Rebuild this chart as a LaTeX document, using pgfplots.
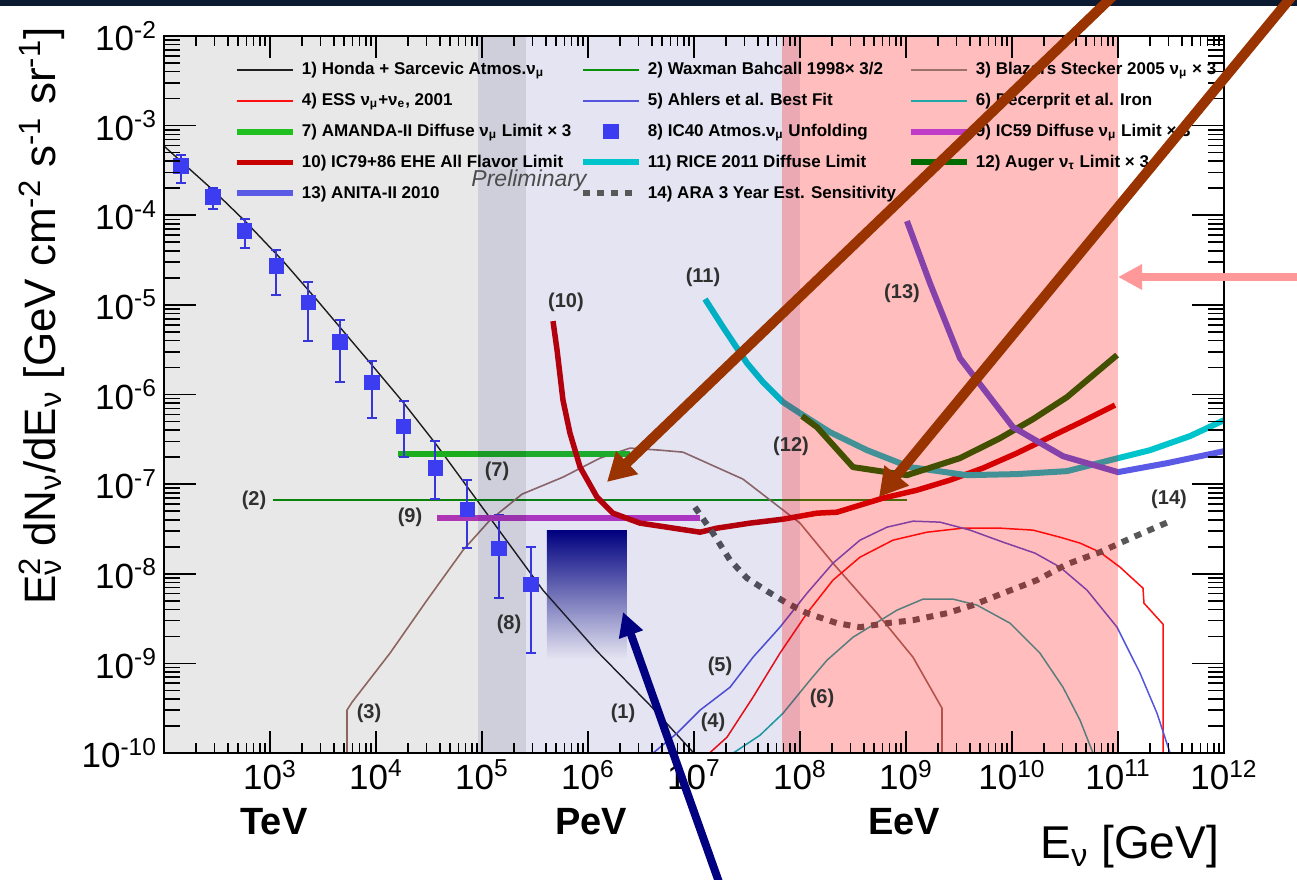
\documentclass[border=0pt]{standalone}
\usepackage{pgfplots}
\pgfplotsset{compat=1.18}
\usepackage{pgfplotstable}
\usepackage{fontspec}
\setmainfont{Liberation Sans}
\usetikzlibrary{arrows.meta}

\definecolor{cHonda}{HTML}{202020}
\definecolor{cWB}{HTML}{0A900A}
\definecolor{cBlz}{HTML}{9A7068}
\definecolor{cESS}{HTML}{FF1010}
\definecolor{cAhl}{HTML}{5555DD}
\definecolor{cDec}{HTML}{20A8A8}
\definecolor{cAma}{HTML}{20C020}
\definecolor{cIC}{HTML}{3C3CF0}
\definecolor{cIC59}{HTML}{C03CC8}
\definecolor{cEHE}{HTML}{C80000}
\definecolor{cRice}{HTML}{00C4CC}
\definecolor{cAug}{HTML}{006C00}
\definecolor{cAni}{HTML}{5A5AE6}
\definecolor{cAra}{HTML}{585858}
\definecolor{cBrownArrow}{HTML}{993300}
\definecolor{cPinkArrow}{HTML}{FF9999}
\definecolor{cNavy}{HTML}{000080}
\definecolor{cMidNavy}{HTML}{6A6AB0}
\definecolor{cTopBar}{HTML}{0B1A30}
\definecolor{cLab}{HTML}{303030}

\newcommand{\LA}[1]{\makebox[136pt][l]{#1}}
\newcommand{\LB}[1]{\makebox[127pt][l]{#1}}
\newcommand{\LC}[1]{\makebox[140pt][l]{#1}}
\pgfplotsset{markleg/.style={legend image code/.code={\draw[##1] plot coordinates {(14pt,0pt)};}}}

% all tables: lx = log10(E/GeV), ly = log10(flux)
\pgfplotstableread{
lx ly
2.000 -3.228
2.462 -3.719
2.764 -4.065
3.123 -4.511
3.443 -4.946
3.962 -5.672
4.255 -6.085
4.566 -6.554
4.953 -7.179
5.236 -7.636
5.575 -8.183
6.085 -8.864
6.585 -9.467
6.991 -9.991
7.080 -10.100
}\tHonda
\pgfplotstableread{
lx ly
3.028 -7.179
9.009 -7.179
}\tWB
\pgfplotstableread{
lx ly
3.726 -10.200
3.726 -9.522
3.774 -9.433
4.132 -8.886
4.481 -8.295
4.821 -7.737
5.075 -7.402
5.377 -7.112
5.764 -6.922
6.113 -6.710
6.396 -6.598
6.679 -6.621
6.896 -6.643
7.462 -6.944
8.000 -7.435
8.311 -7.882
8.726 -8.440
9.066 -8.931
9.340 -9.500
9.340 -10.200
}\tBlz
\pgfplotstableread{
lx ly
7.100 -10.050
7.311 -9.824
7.557 -9.377
7.811 -8.886
8.066 -8.440
8.311 -8.071
8.566 -7.815
8.877 -7.625
9.198 -7.536
9.538 -7.491
9.887 -7.491
10.198 -7.513
10.453 -7.592
10.642 -7.658
10.830 -7.759
11.019 -7.926
11.236 -8.161
11.245 -8.328
11.425 -8.563
11.425 -10.200
}\tESS
\pgfplotstableread{
lx ly
6.604 -10.010
6.840 -9.779
7.057 -9.522
7.340 -9.266
7.557 -8.931
7.811 -8.596
8.066 -8.217
8.311 -7.882
8.566 -7.625
8.821 -7.480
9.066 -7.413
9.321 -7.424
9.604 -7.513
9.915 -7.647
10.217 -7.770
10.453 -7.926
10.708 -8.183
10.991 -8.596
11.208 -9.109
11.368 -9.556
11.491 -10.000
11.530 -10.100
}\tAhl
\pgfplotstableread{
lx ly
7.358 -10.010
7.623 -9.801
7.840 -9.556
8.094 -9.188
8.255 -8.964
8.500 -8.708
8.915 -8.406
9.160 -8.283
9.443 -8.283
9.670 -8.350
9.981 -8.551
10.264 -8.886
10.481 -9.266
10.642 -9.634
10.764 -10.000
10.800 -10.100
}\tDec
\pgfplotstableread{
lx ly
4.208 -6.665
6.396 -6.665
}\tAma
\pgfplotstableread{
lx ly lo hi
2.16 -3.451 -3.641 -3.328
2.46 -3.797 -3.931 -3.696
2.76 -4.176 -4.366 -4.042
3.06 -4.567 -4.891 -4.388
3.36 -4.969 -5.404 -4.746
3.66 -5.415 -5.862 -5.170
3.96 -5.862 -6.263 -5.627
4.26 -6.353 -6.699 -6.074
4.56 -6.821 -7.167 -6.520
4.86 -7.279 -7.714 -6.955
5.16 -7.714 -8.272 -7.346
5.46 -8.116 -8.886 -7.703
}\tIC
\pgfplotstableread{
lx ly
4.575 -7.379
7.057 -7.379
}\tICf
\pgfplotstableread{
lx ly
5.670 -5.181
5.708 -5.504
5.764 -6.063
5.830 -6.431
5.925 -6.810
6.085 -7.145
6.236 -7.324
6.491 -7.435
6.745 -7.480
7.057 -7.536
7.217 -7.491
7.528 -7.435
7.840 -7.391
8.160 -7.324
8.349 -7.313
8.783 -7.156
9.104 -7.067
9.415 -6.955
9.726 -6.821
10.047 -6.654
10.358 -6.475
10.670 -6.297
10.972 -6.118
}\tEHE
\pgfplotstableread{
lx ly
7.104 -4.935
7.274 -5.248
7.500 -5.650
7.651 -5.862
7.840 -6.085
8.028 -6.230
8.283 -6.420
8.632 -6.621
9.038 -6.810
9.575 -6.900
10.047 -6.888
10.519 -6.855
11.000 -6.710
11.302 -6.621
11.679 -6.464
12.000 -6.286
}\tRice
\pgfplotstableread{
lx ly
8.019 -6.241
8.160 -6.364
8.500 -6.810
9.009 -6.900
9.509 -6.710
9.887 -6.487
10.198 -6.275
10.519 -6.029
10.991 -5.560
}\tAug
\pgfplotstableread{
lx ly
9.009 -4.065
9.226 -4.757
9.509 -5.594
10.009 -6.364
10.481 -6.688
11.000 -6.866
11.462 -6.766
12.000 -6.632
}\tAni
\pgfplotstableread{
lx ly
7.009 -7.257
7.179 -7.547
7.340 -7.848
7.500 -8.049
7.689 -8.194
7.877 -8.328
8.066 -8.440
8.349 -8.551
8.566 -8.596
8.821 -8.551
9.066 -8.518
9.387 -8.440
9.632 -8.350
9.915 -8.217
10.236 -8.071
10.519 -7.893
10.830 -7.759
11.142 -7.592
11.472 -7.424
}\tAra

\begin{document}
\begin{tikzpicture}
\begin{axis}[
  scale only axis, width=530pt, height=358.5pt,
  xmode=log, ymode=log,
  xmin=1e2, xmax=1e12, ymin=1e-10, ymax=1e-2,
  axis on top,
  xtick={1e2,1e3,1e4,1e5,1e6,1e7,1e8,1e9,1e10,1e11,1e12},
  xticklabels={{},{10\textsuperscript{3}},{10\textsuperscript{4}},{10\textsuperscript{5}},{10\textsuperscript{6}},{10\textsuperscript{7}},{10\textsuperscript{8}},{10\textsuperscript{9}},{10\textsuperscript{10}},{10\textsuperscript{11}},{10\textsuperscript{12}}},
  ytick=\empty,
  major tick length=11pt, minor tick length=5pt,
  tick style={black, line width=0.8pt},
  axis line style={line width=1pt},
  tick label style={font=\fontsize{17.5}{18}\selectfont},
  legend columns=3,
  legend cell align=left,
  legend image code/.code={\draw[#1] (0pt,0pt) -- (28pt,0pt);},
  legend style={at={(0.066,0.968)}, anchor=north west, draw=none, fill=none,
    inner sep=0pt, outer sep=0pt, font=\bfseries\fontsize{8.5}{10}\selectfont,
    nodes={inner xsep=3pt, inner ysep=1pt, text height=7pt, text depth=2pt},
    row sep=4.4pt, column sep=0pt},
]
% gradient box
\addplot[forget plot, draw=none, top color=cNavy, middle color=cMidNavy, bottom color=white]
  coordinates {(4.1e5,1.14e-9) (2.33e6,1.14e-9) (2.33e6,3.07e-8) (4.1e5,3.07e-8)} -- cycle;

\addplot[cHonda, line width=0.7pt] table[x expr=10^(\thisrow{lx}), y expr=10^(\thisrow{ly})] {\tHonda};
\addlegendentry{\LA{1) Honda + Sarcevic Atmos.ν\textsubscript{μ}}}
\addplot[cWB, line width=0.8pt] table[x expr=10^(\thisrow{lx}), y expr=10^(\thisrow{ly})] {\tWB};
\addlegendentry{\LB{2) Waxman Bahcall 1998× 3/2}}
\addplot[cBlz, line width=0.8pt] table[x expr=10^(\thisrow{lx}), y expr=10^(\thisrow{ly})] {\tBlz};
\addlegendentry{\LC{3) Blazars Stecker 2005 ν\textsubscript{μ} × 3}}
\addplot[cESS, line width=0.75pt] table[x expr=10^(\thisrow{lx}), y expr=10^(\thisrow{ly})] {\tESS};
\addlegendentry{\LA{4) ESS ν\textsubscript{μ}+ν\textsubscript{e}, 2001}}
\addplot[cAhl, line width=0.75pt] table[x expr=10^(\thisrow{lx}), y expr=10^(\thisrow{ly})] {\tAhl};
\addlegendentry{\LB{5) Ahlers et al. Best Fit}}
\addplot[cDec, line width=0.75pt] table[x expr=10^(\thisrow{lx}), y expr=10^(\thisrow{ly})] {\tDec};
\addlegendentry{\LC{6) Decerprit et al. Iron}}
\addplot[cAma, line width=3pt] table[x expr=10^(\thisrow{lx}), y expr=10^(\thisrow{ly})] {\tAma};
\addlegendentry{\LA{7) AMANDA-II Diffuse ν\textsubscript{μ} Limit × 3}}
\addplot[cIC, only marks, mark=square*, mark size=3.6pt, markleg,
  error bars/.cd, y dir=both, y explicit,
  error bar style={line width=1pt, cIC},
  error mark options={rotate=90, line width=1pt, mark size=2.5pt, cIC}]
  table[x expr=10^(\thisrow{lx}), y expr=10^(\thisrow{ly}),
        y error plus expr=10^(\thisrow{hi})-10^(\thisrow{ly}),
        y error minus expr=10^(\thisrow{ly})-10^(\thisrow{lo})] {\tIC};
\addlegendentry{\LB{8) IC40 Atmos.ν\textsubscript{μ} Unfolding}}
\addplot[cIC59, line width=3pt] table[x expr=10^(\thisrow{lx}), y expr=10^(\thisrow{ly})] {\tICf};
\addlegendentry{\LC{9) IC59 Diffuse ν\textsubscript{μ} Limit × 3}}
\addplot[cEHE, line width=2.75pt, line join=round] table[x expr=10^(\thisrow{lx}), y expr=10^(\thisrow{ly})] {\tEHE};
\addlegendentry{\LA{10) IC79+86 EHE All Flavor Limit}}
\addplot[cRice, line width=3pt, line join=round] table[x expr=10^(\thisrow{lx}), y expr=10^(\thisrow{ly})] {\tRice};
\addlegendentry{\LB{11) RICE 2011 Diffuse Limit}}
\addplot[cAug, line width=3pt, line join=round] table[x expr=10^(\thisrow{lx}), y expr=10^(\thisrow{ly})] {\tAug};
\addlegendentry{\LC{12) Auger ν\textsubscript{τ} Limit × 3}}
\addplot[cAni, line width=3pt, line join=round] table[x expr=10^(\thisrow{lx}), y expr=10^(\thisrow{ly})] {\tAni};
\addlegendentry{\LA{13) ANITA-II 2010}}
\addplot[cAra, line width=3pt, dash pattern=on 3.5pt off 3.5pt] table[x expr=10^(\thisrow{lx}), y expr=10^(\thisrow{ly})] {\tAra};
\addlegendentry{\LB{14) ARA 3 Year Est. Sensitivity}}

% translucent energy bands
\addplot[forget plot, draw=none, fill=cNavy, fill opacity=0.105]
  coordinates {(9.1e4,1e-10) (1e8,1e-10) (1e8,1e-2) (9.1e4,1e-2)} -- cycle;
\addplot[forget plot, draw=none, fill=black, fill opacity=0.09]
  coordinates {(1e2,1e-10) (2.6e5,1e-10) (2.6e5,1e-2) (1e2,1e-2)} -- cycle;
\addplot[forget plot, draw=none, fill=red, fill opacity=0.26]
  coordinates {(6.76e7,1e-10) (1e11,1e-10) (1e11,1e-2) (6.76e7,1e-2)} -- cycle;
\end{axis}

\begin{axis}[
  scale only axis, width=530pt, height=358.5pt,
  xmode=log, ymode=log,
  xmin=1e2, xmax=1e12, ymin=1e-10, ymax=1e-2,
  xtick=\empty,
  ytick={1e-10,1e-9,1e-8,1e-7,1e-6,1e-5,1e-4,1e-3,1e-2},
  yticklabels={{10\textsuperscript{-10}},{10\textsuperscript{-9}},{10\textsuperscript{-8}},{10\textsuperscript{-7}},{10\textsuperscript{-6}},{10\textsuperscript{-5}},{10\textsuperscript{-4}},{10\textsuperscript{-3}},{10\textsuperscript{-2}}},
  major tick length=16pt, minor tick length=8pt,
  tick style={black, line width=0.8pt},
  axis line style={line width=1pt},
  tick label style={font=\fontsize{17.5}{18}\selectfont},
]
\end{axis}

\begin{scope}[shift={(-82pt,376.5pt)}, x=0.5pt, y=-0.5pt]
  \fill[cTopBar] (0,0) rectangle (1297,6);
  \begin{scope}[every node/.style={font=\bfseries\fontsize{10}{11}\selectfont, text=cLab}]
    \node at (623,713) {(1)};
    \node at (254,500) {(2)};
    \node at (369,713) {(3)};
    \node at (713,722) {(4)};
    \node at (720,666) {(5)};
    \node at (822,698) {(6)};
    \node at (497,471) {(7)};
    \node at (509,624) {(8)};
    \node at (410,517) {(9)};
    \node at (566,302) {(10)};
    \node at (703,277) {(11)};
    \node at (791,446) {(12)};
    \node at (902,293) {(13)};
    \node at (1169,499) {(14)};
  \end{scope}
  \node[font=\itshape\fontsize{11.5}{12}\selectfont, text=black!70] at (529,181) {Preliminary};
  \node[rotate=90, font=\fontsize{22}{24}\selectfont] at (42,316)
    {E\rlap{\textsuperscript{2}}\textsubscript{ν} dN\textsubscript{ν}/dE\textsubscript{ν} [GeV cm\textsuperscript{-2} s\textsuperscript{-1} sr\textsuperscript{-1}]};
  \node[anchor=east, font=\fontsize{23}{25}\selectfont] at (1226,847) {E\textsubscript{ν} [GeV]};
  \node[font=\bfseries\fontsize{19}{20}\selectfont] at (274,822) {TeV};
  \node[font=\bfseries\fontsize{19}{20}\selectfont] at (591,822) {PeV};
  \node[font=\bfseries\fontsize{19}{20}\selectfont] at (904,822) {EeV};
  \draw[cBrownArrow, line width=5pt, -{Triangle[length=14pt,width=15pt]}] (1114,-5) -- (607,482);
  \draw[cBrownArrow, line width=5pt, -{Triangle[length=14pt,width=15pt]}] (1293,-5) -- (879,497);
  \draw[cPinkArrow, line width=4pt, -{Triangle[length=12pt,width=12pt]}] (1302,277) -- (1118,277);
  \draw[cNavy, line width=4pt, -{Triangle[length=12pt,width=12pt]}] (720,885) -- (623,612);
  \pgfresetboundingbox
  \useasboundingbox (0,0) rectangle (1297,879);
\end{scope}
\end{tikzpicture}
\end{document}
